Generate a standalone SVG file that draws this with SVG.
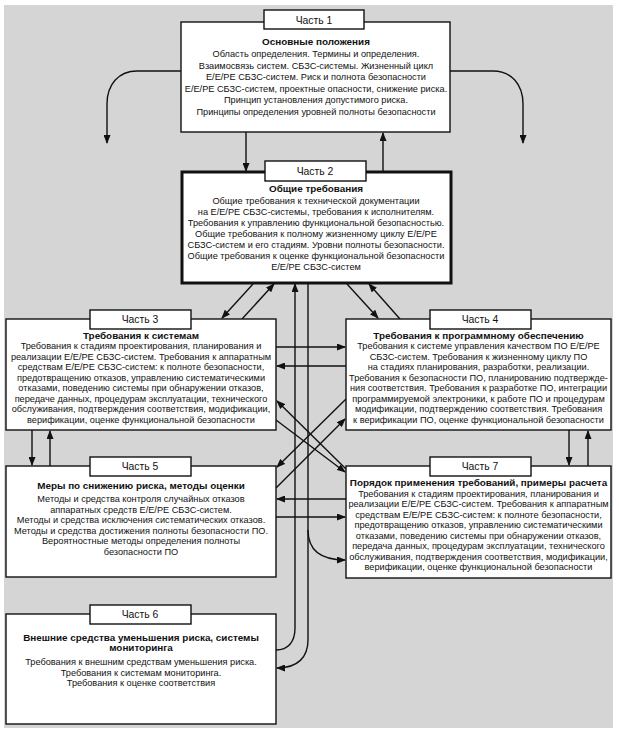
<svg xmlns="http://www.w3.org/2000/svg" width="619" height="733" viewBox="0 0 619 733">
<style>
.bg{fill:#d5d5d5}
.box{fill:#fff;stroke:#111;stroke-width:1.4}
.box2{fill:#fff;stroke:#111;stroke-width:3}
.lbl{fill:#fff;stroke:#111;stroke-width:1.4}
text{font-family:"Liberation Sans",Arial,sans-serif;fill:#111;text-anchor:middle}
.lt{font-size:10.4px}
.t{font-size:9.9px;font-weight:bold}
.b{font-size:9.2px}
.c{fill:none;stroke:#111;stroke-width:1.4}
</style>
<defs>
<marker id="ah" markerUnits="userSpaceOnUse" markerWidth="9" markerHeight="7" refX="8" refY="3.5" orient="auto">
<path d="M0,0 L9,3.5 L0,7 Z" fill="#111"/>
</marker>
</defs>
<rect class="bg" x="4" y="5" width="609" height="723"/>

<g id="connectors">
<path class="c" d="M246,132 V171" marker-end="url(#ah)"/>
<path class="c" d="M383,171 V133" marker-end="url(#ah)"/>
<path class="c" d="M181,71 H137 C119,71 107,84 107,104 V143" marker-end="url(#ah)"/>
<path class="c" d="M450,71 H493 C511,71 523,84 523,104 V143" marker-end="url(#ah)"/>
<path class="c" d="M253,284 L222,318" marker-end="url(#ah)"/>
<path class="c" d="M242,319 L274,284" marker-end="url(#ah)"/>
<path class="c" d="M347,284 L378,318" marker-end="url(#ah)"/>
<path class="c" d="M400,319 L369,284" marker-end="url(#ah)"/>
<path class="c" d="M276,347 H345" marker-end="url(#ah)"/>
<path class="c" d="M346,366 H277" marker-end="url(#ah)"/>
<path class="c" d="M32,430 V465" marker-end="url(#ah)"/>
<path class="c" d="M50,466 V431" marker-end="url(#ah)"/>
<path class="c" d="M569,430 V465" marker-end="url(#ah)"/>
<path class="c" d="M588,466 V431" marker-end="url(#ah)"/>
<path class="c" d="M346,469 L277,401" marker-end="url(#ah)"/>
<path class="c" d="M276,420 L345,472" marker-end="url(#ah)"/>
<path class="c" d="M346,399 L277,467" marker-end="url(#ah)"/>
<path class="c" d="M276,488 L345,419" marker-end="url(#ah)"/>
<path class="c" d="M346,499 H277" marker-end="url(#ah)"/>
<path class="c" d="M276,517 H345" marker-end="url(#ah)"/>
<path class="c" d="M276,650 C288,650 295,642 295,628 V284" marker-end="url(#ah)"/>
<path class="c" d="M308,283 V640 C308,657 298,668 277,668" marker-end="url(#ah)"/>
<path class="c" d="M308,530 C308,551 321,560 345,560" marker-end="url(#ah)"/>
</g>

<g id="part1">
<rect class="box" x="181" y="22" width="269" height="110"/>
<rect class="lbl" x="264" y="10" width="100" height="19"/>
<text class="lt" x="314" y="23.5">Часть 1</text>
<text class="t" x="316" y="44.5">Основные положения</text>
<text class="b" x="316" y="57">Область определения. Термины и определения.</text>
<text class="b" x="316" y="68.5">Взаимосвязь систем. СБЗС-системы. Жизненный цикл</text>
<text class="b" x="316" y="80">Е/Е/РЕ СБЗС-систем. Риск и полнота безопасности</text>
<text class="b" x="316" y="91.5">Е/Е/РЕ СБЗС-систем, проектные опасности, снижение риска.</text>
<text class="b" x="316" y="103">Принцип установления допустимого риска.</text>
<text class="b" x="316" y="114.5">Принципы определения уровней полноты безопасности</text>
</g>

<g id="part2">
<rect class="box2" x="182" y="172" width="269" height="111"/>
<rect class="lbl" x="265" y="161" width="101" height="20" stroke-width="2"/>
<text class="lt" x="315" y="174.5">Часть 2</text>
<text class="t" x="316" y="192">Общие требования</text>
<text class="b" x="316" y="203.5">Общие требования к технической документации</text>
<text class="b" x="316" y="214.5">на Е/Е/РЕ СБЗС-системы, требования к исполнителям.</text>
<text class="b" x="316" y="225.5">Требования к управлению функциональной безопасностью.</text>
<text class="b" x="316" y="236.5">Общие требования к полному жизненному циклу Е/Е/РЕ</text>
<text class="b" x="316" y="247.5">СБЗС-систем и его стадиям. Уровни полноты безопасности.</text>
<text class="b" x="316" y="258.5">Общие требования к оценке функциональной безопасности</text>
<text class="b" x="316" y="269.5">Е/Е/РЕ СБЗС-систем</text>
</g>

<g id="part3">
<rect class="box" x="6" y="319" width="270" height="111"/>
<rect class="lbl" x="90" y="310" width="101" height="19"/>
<text class="lt" x="140" y="323">Часть 3</text>
<text class="t" x="141" y="338.5">Требования к системам</text>
<text class="b" x="141" y="349">Требования к стадиям проектирования, планирования и</text>
<text class="b" x="141" y="359.5">реализации Е/Е/РЕ СБЗС-систем. Требования к аппаратным</text>
<text class="b" x="141" y="370">средствам Е/Е/РЕ СБЗС-систем: к полноте безопасности,</text>
<text class="b" x="141" y="380.5">предотвращению отказов, управлению систематическими</text>
<text class="b" x="141" y="391">отказами, поведению системы при обнаружении отказов,</text>
<text class="b" x="141" y="401.5">передаче данных, процедурам эксплуатации, технического</text>
<text class="b" x="141" y="412">обслуживания, подтверждения соответствия, модификации,</text>
<text class="b" x="141" y="422.5">верификации, оценке функциональной безопасности</text>
</g>

<g id="part4">
<rect class="box" x="346" y="319" width="265" height="111"/>
<rect class="lbl" x="430" y="310" width="101" height="19"/>
<text class="lt" x="480" y="323">Часть 4</text>
<text class="t" x="478.5" y="338.5">Требования к программному обеспечению</text>
<text class="b" x="478.5" y="349">Требования к системе управления качеством ПО Е/Е/РЕ</text>
<text class="b" x="478.5" y="359.5">СБЗС-систем. Требования к жизненному циклу ПО</text>
<text class="b" x="478.5" y="370">на стадиях планирования, разработки, реализации.</text>
<text class="b" x="478.5" y="380.5">Требования к безопасности ПО, планированию подтвержде-</text>
<text class="b" x="478.5" y="391">ния соответствия. Требования к разработке ПО, интеграции</text>
<text class="b" x="478.5" y="401.5">программируемой электроники, к работе ПО и процедурам</text>
<text class="b" x="478.5" y="412">модификации, подтверждению соответствия. Требования</text>
<text class="b" x="478.5" y="422.5">к верификации ПО, оценке функциональной безопасности</text>
</g>

<g id="part5">
<rect class="box" x="6" y="466" width="270" height="111"/>
<rect class="lbl" x="90" y="457" width="101" height="19"/>
<text class="lt" x="140" y="470">Часть 5</text>
<text class="t" x="141" y="489">Меры по снижению риска, методы оценки</text>
<text class="b" x="141" y="502">Методы и средства контроля случайных отказов</text>
<text class="b" x="141" y="512.5">аппаратных средств Е/Е/РЕ СБЗС-систем.</text>
<text class="b" x="141" y="523">Методы и средства исключения систематических отказов.</text>
<text class="b" x="141" y="533.5">Методы и средства достижения полноты безопасности ПО.</text>
<text class="b" x="141" y="544">Вероятностные методы определения полноты</text>
<text class="b" x="141" y="554.5">безопасности ПО</text>
</g>

<g id="part7">
<rect class="box" x="346" y="466" width="265" height="112"/>
<rect class="lbl" x="430" y="457" width="101" height="19"/>
<text class="lt" x="480" y="470">Часть 7</text>
<text class="t" x="478.5" y="485.5">Порядок применения требований, примеры расчета</text>
<text class="b" x="478.5" y="496.5">Требования к стадиям проектирования, планирования и</text>
<text class="b" x="478.5" y="507">реализации Е/Е/РЕ СБЗС-систем. Требования к аппаратным</text>
<text class="b" x="478.5" y="517.5">средствам Е/Е/РЕ СБЗС-систем: к полноте безопасности,</text>
<text class="b" x="478.5" y="528">предотвращению отказов, управлению систематическими</text>
<text class="b" x="478.5" y="538.5">отказами, поведению системы при обнаружении отказов,</text>
<text class="b" x="478.5" y="549">передача данных, процедурам эксплуатации, технического</text>
<text class="b" x="478.5" y="559.5">обслуживания, подтверждения соответствия, модификации,</text>
<text class="b" x="478.5" y="570">верификации, оценке функциональной безопасности</text>
</g>

<g id="part6">
<rect class="box" x="6" y="614" width="270" height="110"/>
<rect class="lbl" x="90" y="605" width="101" height="19"/>
<text class="lt" x="140" y="618">Часть 6</text>
<text class="t" x="141" y="640.5">Внешние средства уменьшения риска, системы</text>
<text class="t" x="141" y="651">мониторинга</text>
<text class="b" x="141" y="665">Требования к внешним средствам уменьшения риска.</text>
<text class="b" x="141" y="675.5">Требования к системам мониторинга.</text>
<text class="b" x="141" y="686">Требования к оценке соответствия</text>
</g>
</svg>
